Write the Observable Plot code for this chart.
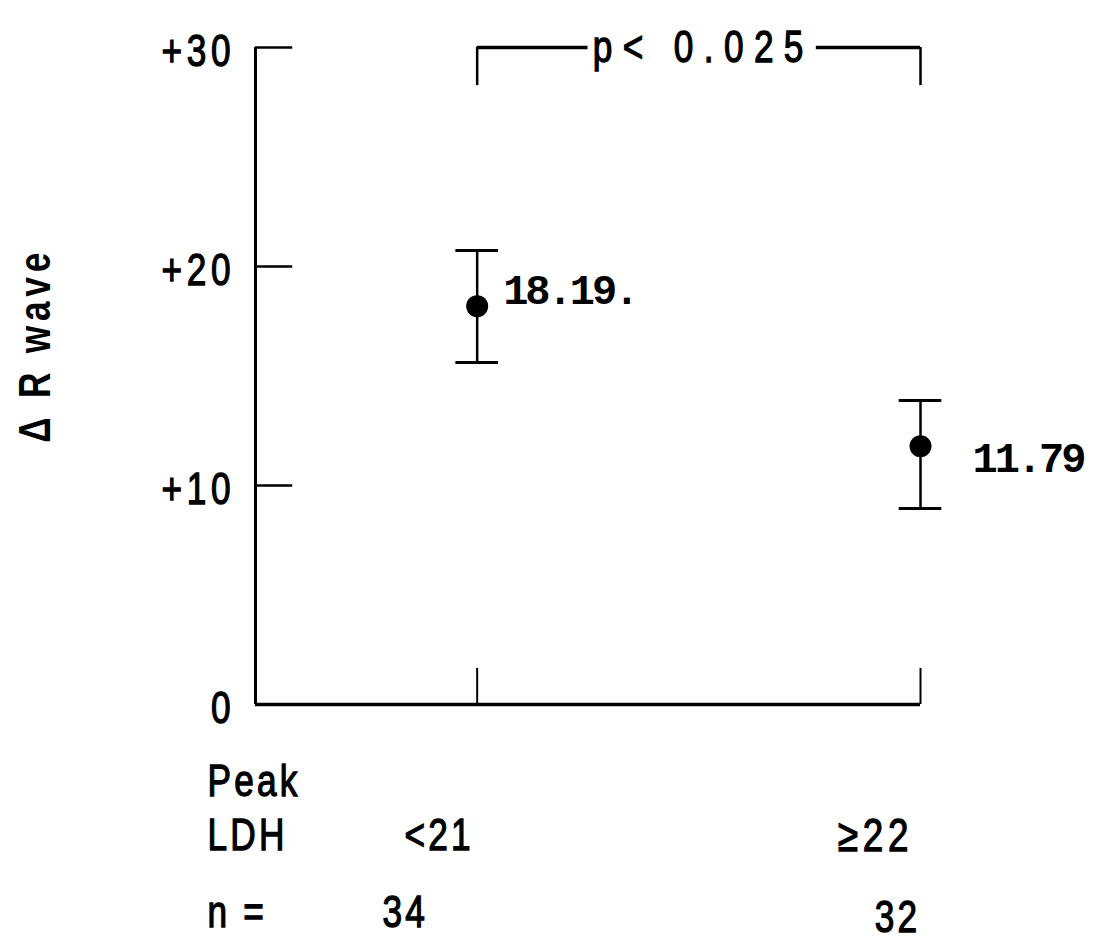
<!DOCTYPE html>
<html>
<head>
<meta charset="utf-8">
<script src="https://cdn.jsdelivr.net/npm/d3@7"></script>
<script src="https://cdn.jsdelivr.net/npm/@observablehq/plot@0.6"></script>
<style>
  html, body { margin: 0; padding: 0; background: #fff; }
  svg g[font-family*="Liberation Sans"] text { letter-spacing: 4px; stroke: #000; stroke-width: 1.3px; }
  svg g[font-family*="Mono"] text { letter-spacing: -3px; }
</style>
</head>
<body>
<div id="chart"></div>
<script>
// ---- data ----
const groups = [1, 2];                       // group positions on the x axis
const groupLabels = ["<21", "≥22"];          // Peak LDH categories
const nValues = ["34", "32"];                // sample sizes
const means = [18.19, 11.79];                // mean ΔR wave
const upper = [20.73, 13.88];                // mean + SE
const lower = [15.62, 8.95];                 // mean - SE
const meanLabels = ["18.19.", "11.79"];
const yTicks = [0, 10, 20, 30];
const yTickLabels = ["0", "+10", "+20", "+30"];
const rowLabels = ["Peak", "LDH", "n ="];
const rowLevels = [-3.55, -6.0, -9.5];       // rows below the axis
const pLabel = "p< 0.025";
const yTitle = "Δ R wave";

const sans = "'Liberation Sans', Arial, sans-serif";
const mono = "'Liberation Mono', 'DejaVu Sans Mono', monospace";

const idx = groups.map((_, i) => i);

const chart = Plot.plot({
  width: 1109,
  height: 952,
  marginLeft: 255,
  marginRight: 189,
  marginTop: 47,
  marginBottom: 248,
  x: {domain: [0.5, 2], axis: null},
  y: {domain: [0, 30], axis: null},
  style: {background: "#fff", color: "#000"},
  marks: [
    // axes
    Plot.ruleX([0.5], {y1: 0, y2: 30, stroke: "#000", strokeWidth: 3}),
    Plot.ruleY([0], {x1: 0.5, x2: 2, stroke: "#000", strokeWidth: 3.5}),
    // y ticks (inward)
    Plot.ruleY(yTicks.filter(t => t > 0), {x1: 0.5, x2: 0.584, stroke: "#000", strokeWidth: 2.5}),
    Plot.text(yTicks, {
      x: 0.5, y: d => d, text: (d, i) => yTickLabels[i],
      textAnchor: "end", dx: -20, dy: 4, fontSize: 44, fontFamily: sans,
      fill: "#000"
    }),
    // x ticks (upward)
    Plot.ruleX(groups, {y1: 0, y2: 1.65, stroke: "#000", strokeWidth: 2}),
    // y title
    Plot.text([yTitle], {
      x: 0.5, y: 16.4, text: d => d, rotate: -90, dx: -220,
      fontSize: 44, fontWeight: "bold", fontFamily: sans, fill: "#000"
    }),
    // error bars
    Plot.ruleX(idx, {x: i => groups[i], y1: i => lower[i], y2: i => upper[i], stroke: "#000", strokeWidth: 2.5}),
    Plot.ruleY(idx, {y: i => upper[i], x1: i => groups[i] - 0.048, x2: i => groups[i] + 0.048, stroke: "#000", strokeWidth: 3}),
    Plot.ruleY(idx, {y: i => lower[i], x1: i => groups[i] - 0.048, x2: i => groups[i] + 0.048, stroke: "#000", strokeWidth: 3}),
    Plot.dot(idx, {x: i => groups[i], y: i => means[i], r: 11, fill: "#000", stroke: "none"}),
    // mean labels
    Plot.text([0], {
      x: i => groups[i], y: i => means[i], text: i => meanLabels[i],
      textAnchor: "start", dx: 26, dy: -16, fontSize: 42, fontFamily: mono,
      fontWeight: "bold", fill: "#000"
    }),
    Plot.text([1], {
      x: i => groups[i], y: i => means[i], text: i => meanLabels[i],
      textAnchor: "start", dx: 52, dy: 12, fontSize: 42, fontFamily: mono,
      fontWeight: "bold", fill: "#000"
    }),
    // significance bracket
    Plot.ruleX(groups, {y1: 28.26, y2: 30, stroke: "#000", strokeWidth: 2.5}),
    Plot.ruleY([30], {x1: 1, x2: 1.25, stroke: "#000", strokeWidth: 3.5}),
    Plot.ruleY([30], {x1: 1.765, x2: 2, stroke: "#000", strokeWidth: 3.5}),
    Plot.text([pLabel], {
      x: 1.51, y: 30, text: d => d, fontSize: 44, fontFamily: sans,
      fill: "#000"
    }),
    // row labels under the axis
    Plot.text(rowLabels, {
      x: 0.5, y: (d, i) => rowLevels[i], text: d => d, textAnchor: "start", dx: -48,
      fontSize: 44, fontFamily: sans, fill: "#000"
    }),
    // group labels
    Plot.text([0], {
      x: i => groups[i], y: rowLevels[1], text: i => groupLabels[i], dx: -38,
      fontSize: 44, fontFamily: sans, fill: "#000"
    }),
    Plot.text([1], {
      x: i => groups[i], y: rowLevels[1], text: i => groupLabels[i], dx: -45,
      fontSize: 46, fontFamily: sans, fill: "#000"
    }),
    // n values
    Plot.text([0], {
      x: i => groups[i], y: rowLevels[2], text: i => nValues[i], dx: -72,
      fontSize: 44, fontFamily: sans, fill: "#000"
    }),
    Plot.text([1], {
      x: i => groups[i], y: rowLevels[2], text: i => nValues[i], dx: -23, dy: 5,
      fontSize: 44, fontFamily: sans, fill: "#000"
    })
  ]
});
// narrow, spaced lettering like the original typesetting
const svg = d3.select(chart);
svg.selectAll('g[font-family*="Liberation Sans"] text').each(function () {
  const el = d3.select(this);
  const t = el.attr("transform") || "";
  el.attr("transform", t + " scale(0.8,1)");
  if (this.textContent === pLabel) el.style("letter-spacing", "13px");
  if (this.textContent === yTitle) el.style("letter-spacing", "6px").style("stroke-width", "0px");
  if (this.textContent === groupLabels[1]) el.style("letter-spacing", "6px");
  if (yTickLabels.includes(this.textContent)) el.style("letter-spacing", "6px");
});
document.getElementById("chart").appendChild(chart);
</script>
</body>
</html>
